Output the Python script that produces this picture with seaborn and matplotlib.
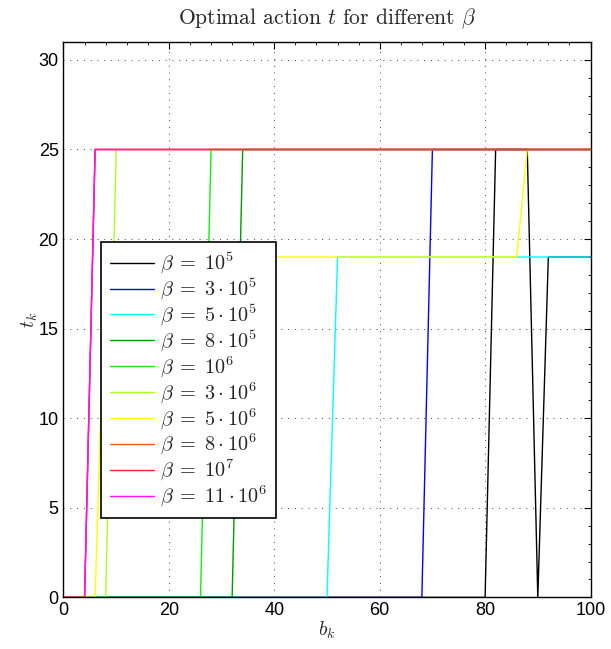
import numpy as np
import pandas as pd
import matplotlib
matplotlib.use("Agg")
import matplotlib.pyplot as plt
import seaborn as sns
from matplotlib.ticker import MultipleLocator

# ---- data (vertices of each piecewise-linear curve) ----
labels = [
    r"$\beta\;=\;10^5$",
    r"$\beta\;=\;3\cdot10^5$",
    r"$\beta\;=\;5\cdot10^5$",
    r"$\beta\;=\;8\cdot10^5$",
    r"$\beta\;=\;10^6$",
    r"$\beta\;=\;3\cdot10^6$",
    r"$\beta\;=\;5\cdot10^6$",
    r"$\beta\;=\;8\cdot10^6$",
    r"$\beta\;=\;10^7$",
    r"$\beta\;=\;11\cdot10^6$",
]

b_1e5 = [0, 80, 82, 88, 90, 92, 100]
t_1e5 = [0, 0, 25, 25, 0, 19, 19]
b_3e5 = [0, 68, 70, 100]
t_3e5 = [0, 0, 25, 25]
b_5e5 = [0, 50, 52, 100]
t_5e5 = [0, 0, 19, 19]
b_8e5 = [0, 32, 34, 100]
t_8e5 = [0, 0, 25, 25]
b_1e6 = [0, 26, 28, 100]
t_1e6 = [0, 0, 25, 25]
b_3e6 = [0, 8, 10, 100]
t_3e6 = [0, 0, 25, 25]
b_5e6 = [0, 6, 8, 86, 88, 100]
t_5e6 = [0, 0, 19, 19, 25, 25]
b_8e6 = [0, 4, 6, 100]
t_8e6 = [0, 0, 25, 25]
b_1e7 = [0, 4, 6, 100]
t_1e7 = [0, 0, 25, 25]
b_11e6 = [0, 4, 6, 100]
t_11e6 = [0, 0, 25, 25]

colors = ["#000000", "#0000FF", "#00FFFF", "#009900", "#11EE11",
          "#AAFF22", "#FFFF00", "#FF5522", "#FF2222", "#FF11FF"]

series = [(b_1e5, t_1e5), (b_3e5, t_3e5), (b_5e5, t_5e5), (b_8e5, t_8e5),
          (b_1e6, t_1e6), (b_3e6, t_3e6), (b_5e6, t_5e6), (b_8e6, t_8e6),
          (b_1e7, t_1e7), (b_11e6, t_11e6)]

rows = []
for lab, (b, t) in zip(labels, series):
    for bb, tt in zip(b, t):
        rows.append({"beta": lab, "b": bb, "t": tt})
df = pd.DataFrame(rows)

# ---- style ----
sns.set_style("white")
plt.rcParams["mathtext.fontset"] = "cm"
plt.rcParams["font.family"] = ["Liberation Sans", "DejaVu Sans"]

fig = plt.figure(figsize=(6.11, 6.49), dpi=100)
ax = fig.add_axes([63.5 / 611, 1 - 597.4 / 649, 527 / 611, 555.4 / 649])

sns.lineplot(data=df, x="b", y="t", hue="beta", hue_order=labels,
             palette=dict(zip(labels, colors)), sort=False, estimator=None,
             linewidth=1.0, ax=ax)

ax.set_xlim(0, 100)
ax.set_ylim(0, 31)
ax.xaxis.set_major_locator(MultipleLocator(20))
ax.xaxis.set_minor_locator(MultipleLocator(4))
ax.yaxis.set_major_locator(MultipleLocator(5))
ax.yaxis.set_minor_locator(MultipleLocator(1))
ax.tick_params(which="both", direction="in", top=True, right=True, colors="black")
ax.tick_params(which="major", length=5, width=0.8, labelsize=13)
ax.tick_params(which="minor", length=2.5, width=0.6)
ax.grid(True, which="major", linestyle=(0, (1, 6)), color="#444444", linewidth=0.7)
for sp in ax.spines.values():
    sp.set_color("black")
    sp.set_linewidth(1.0)

ax.set_title(r"Optimal action $t$ for different $\beta$", family="cmr10",
             fontsize=15.5, pad=13)
ax.set_xlabel(r"$b_k$", fontsize=14, labelpad=0)
ax.set_ylabel(r"$t_k$", fontsize=14, labelpad=-1)

handles, labs = ax.get_legend_handles_labels()
leg = ax.legend(handles, labs, loc="upper left",
                bbox_to_anchor=(37.2 / 527, (597.4 - 241.7) / 555.4),
                borderaxespad=0, fontsize=14.6, labelspacing=0.04,
                handlelength=2.2, handletextpad=0.25, borderpad=0.45,
                fancybox=False, framealpha=1, edgecolor="black")
leg.get_frame().set_linewidth(1.2)

fig.savefig("out.png", dpi=100)
